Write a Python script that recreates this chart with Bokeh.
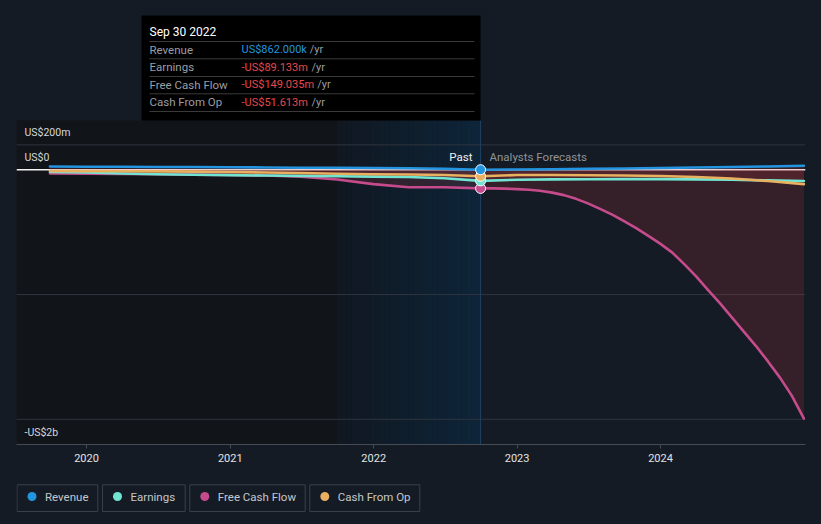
import numpy as np
import pandas as pd
from bokeh.plotting import figure
from bokeh.models import Range1d, FixedTicker, DatetimeTickFormatter
from bokeh.layouts import column
from bokeh.embed import file_html
from bokeh.resources import INLINE
from bokeh.core.properties import value

# ---------------- data (US$ millions) ----------------
PAST_DATES = ["2019-09-30", "2019-12-31", "2020-03-31", "2020-06-30", "2020-09-30",
              "2020-12-31", "2021-03-31", "2021-06-30", "2021-09-30", "2021-12-31",
              "2022-03-31", "2022-06-30", "2022-09-30"]
FC_DATES = ["2022-12-31", "2023-03-31", "2023-06-30", "2023-09-30", "2023-12-31",
            "2024-03-31", "2024-06-30", "2024-09-30", "2024-12-31"]
FCF_FC_DATES = ["2022-10-31", "2022-11-30", "2022-12-31", "2023-01-31", "2023-02-28",
                "2023-03-31", "2023-04-30", "2023-05-31", "2023-06-30", "2023-07-31",
                "2023-08-31", "2023-09-30", "2023-10-31", "2023-11-30", "2023-12-31",
                "2024-01-31", "2024-02-29", "2024-03-31", "2024-04-30", "2024-05-31",
                "2024-06-30", "2024-07-31", "2024-08-31", "2024-09-30", "2024-10-31",
                "2024-11-30", "2024-12-31"]

REVENUE_PAST = [26, 25, 24, 23, 22, 20, 19, 17, 16, 15, 13, 8, 0.862]
EARNINGS_PAST = [-18, -22, -30, -36, -40, -43, -46, -49, -52, -55, -58, -68, -89.133]
FCF_PAST = [-30, -31, -33, -36, -39, -42, -46, -55, -78, -115, -140, -140, -149.035]
CFO_PAST = [-10, -11, -12, -13, -15, -18, -22, -26, -32, -36, -38, -42, -51.613]

REVENUE_FC = [3, 5, 8, 11, 14, 18, 22, 27, 33]
EARNINGS_FC = [-80, -77, -76, -75, -75, -77, -80, -85, -90]
CFO_FC = [-42, -42, -44, -46, -50, -58, -70, -90, -115]
FCF_FC = [-149, -151, -155, -160, -168, -183, -203, -233, -269, -313, -359, -411,
          -467, -528, -592, -664, -752, -852, -960, -1069, -1181, -1297, -1413,
          -1534, -1666, -1810, -1995]

SERIES = ["Revenue", "Earnings", "Free Cash Flow", "Cash From Op"]
PAST_END = "2022-09-30"
PAST_START = "2021-09-30"
TOOLTIP_TITLE = "Sep 30 2022"
TICK_YEARS = [2020, 2021, 2022, 2023, 2024]
Y_LABELS = ["US$200m", "US$0", "-US$2b"]
GRID_VALUES = [200, -1000, -2000]

# ---------------- style ----------------
BG = "#151b24"
DARK = "#111419"
C_REV = "#2394df"
C_EARN = "#71e4d2"
C_FCF = "#c64b8c"
C_CFO = "#e9b060"
COLORS = [C_REV, C_EARN, C_FCF, C_CFO]
RED = "#e5484d"
FONT = value("Roboto")

# pixel <-> data helpers (layout only)
K = 0.12475      # px per US$m
Y0 = 169.3       # page y of zero
X0 = 86.0        # page x of 2020-01-01
PXDAY = 0.3929   # px per day
BASE = pd.Timestamp("2020-01-01")


def ms(ts):
    return pd.Timestamp(ts).value / 1e6


def yv(py):
    return (Y0 - py) / K


def xv(px):
    return ms(BASE + pd.Timedelta(days=(px - X0) / PXDAY))


xq = [ms(d) for d in PAST_DATES + FC_DATES]
xf = [ms(d) for d in PAST_DATES + FCF_FC_DATES]
REVENUE = REVENUE_PAST + REVENUE_FC
EARNINGS = EARNINGS_PAST + EARNINGS_FC
CFO = CFO_PAST + CFO_FC
FCF = FCF_PAST + FCF_FC
x_end = ms(PAST_END)
x_hl = ms(PAST_START)

FRAME_TOP, FRAME_BOTTOM = 12, 444
p = figure(frame_width=789, frame_height=FRAME_BOTTOM - FRAME_TOP,
           min_border_left=8, min_border_right=8, min_border_top=4, min_border_bottom=30,
           x_axis_type="datetime", y_axis_location=None,
           x_range=Range1d(xv(16), xv(805)), y_range=Range1d(yv(FRAME_BOTTOM), yv(FRAME_TOP)),
           output_backend="svg", toolbar_location=None)
p.background_fill_color = BG
p.border_fill_color = BG
p.outline_line_color = None
p.xgrid.visible = False
p.ygrid.visible = False

# backgrounds
top_bg = yv(120)
bot_bg = yv(FRAME_BOTTOM)
p.quad(left=[xv(16)], right=[x_hl], top=[top_bg], bottom=[bot_bg], fill_color=DARK, line_color=None)
n = 30
c0 = np.array([17, 24, 34])
c1 = np.array([14, 37, 57])
edges = np.linspace(x_hl, x_end, n + 1)
cols = ["#%02x%02x%02x" % tuple(int(v) for v in (c0 + (c1 - c0) * (i / (n - 1)))) for i in range(n)]
p.quad(left=edges[:-1], right=edges[1:] + (edges[1] - edges[0]) * 0.05, top=[top_bg] * n, bottom=[bot_bg] * n,
       fill_color=cols, line_color=None)

# gridlines
p.segment(x0=[xv(16)] * len(GRID_VALUES), x1=[xv(805)] * len(GRID_VALUES),
          y0=GRID_VALUES, y1=GRID_VALUES, line_color="#2f353e", line_width=1)
p.segment(x0=[xv(16)], x1=[xv(805)], y0=[0], y1=[0], line_color="#f2f2f2", line_width=1.5)

# fills
p.varea(x=xq, y1=REVENUE, y2=EARNINGS, fill_color="#e23c46", fill_alpha=0.16)
p.varea(x=xf, y1=[0] * len(xf), y2=FCF, fill_color="#e23c46", fill_alpha=0.16)

# past/forecast divider
p.segment(x0=[x_end], x1=[x_end], y0=[yv(120)], y1=[bot_bg], line_color="#1d4466", line_width=1)

# lines
for xs, ys, c in [(xf, FCF, C_FCF), (xq, EARNINGS, C_EARN), (xq, CFO, C_CFO), (xq, REVENUE, C_REV)]:
    p.line(xs, ys, line_color=c, line_width=2.6, line_cap="round", line_join="round")

i_end = PAST_DATES.index(PAST_END)
p.scatter(x=[x_end] * 4,
          y=[FCF[i_end], EARNINGS[i_end], CFO[i_end], REVENUE[i_end]],
          size=10, fill_color=[C_FCF, C_EARN, C_CFO, C_REV], line_color="white", line_width=1)

# y labels
p.text(x=[xv(24)] * 3, y=[yv(132), yv(156.7), yv(432)], text=Y_LABELS,
       text_font=FONT, text_font_size=value("10.5px"), text_color="#d6d9dc",
       text_align="left", text_baseline="middle")

# Past / Forecast labels
p.text(x=[xv(472)], y=[yv(156)], text=["Past"], text_font=FONT, text_font_size=value("11.5px"),
       text_color="#f0f0f0", text_align="right", text_baseline="middle")
p.text(x=[xv(489)], y=[yv(156)], text=["Analysts Forecasts"], text_font=FONT,
       text_font_size=value("11.5px"), text_color="#8e949b", text_align="left", text_baseline="middle")

# tooltip
p.quad(left=[xv(141)], right=[x_end], top=[yv(15)], bottom=[yv(120)], fill_color="#000000", line_color=None)
p.text(x=[xv(149)], y=[yv(31)], text=[TOOLTIP_TITLE], text_font=FONT, text_font_size=value("12px"),
       text_color="#ffffff", text_align="left", text_baseline="middle")
sep_y = [41, 58.3, 76, 93.3, 111]
p.segment(x0=[xv(149)] * 5, x1=[xv(474)] * 5, y0=[yv(v) for v in sep_y], y1=[yv(v) for v in sep_y],
          line_color="#3a3a3a", line_width=1)


def fmt(v):
    a = abs(v)
    s = f"US${a * 1000:.3f}k" if a < 1 else f"US${a:.3f}m"
    return ("-" if v < 0 else "") + s


row_y = [49.3, 66.7, 84.3, 101.7]
vals = [REVENUE[i_end], EARNINGS[i_end], FCF[i_end], CFO[i_end]]
yr_x = [309.3, 311, 316.7, 311]
p.text(x=[xv(149)] * 4, y=[yv(v) for v in row_y], text=SERIES, text_font=FONT,
       text_font_size=value("11.5px"), text_color="#9a9ea4", text_align="left", text_baseline="middle")
p.text(x=[xv(241)] * 4, y=[yv(v) for v in row_y], text=[fmt(v) for v in vals], text_font=FONT,
       text_font_size=value("11px"), text_color=[C_REV if v >= 0 else RED for v in vals],
       text_align="left", text_baseline="middle")
p.text(x=[xv(px) for px in yr_x], y=[yv(v) for v in row_y], text=["/yr"] * 4, text_font=FONT,
       text_font_size=value("11px"), text_color="#9a9ea4", text_align="left", text_baseline="middle")

# x axis
p.xaxis.ticker = FixedTicker(ticks=[ms(f"{y}-01-01") for y in TICK_YEARS])
p.xaxis.formatter = DatetimeTickFormatter(years="%Y", months="%Y", days="%Y", hours="%Y",
                                          minutes="%Y", seconds="%Y", milliseconds="%Y")
p.xaxis.axis_line_color = "#464b53"
p.xaxis.major_tick_line_color = "#464b53"
p.xaxis.major_tick_in = 0
p.xaxis.major_tick_out = 4
p.xaxis.minor_tick_line_color = None
p.xaxis.major_label_text_color = "#e2e4e6"
p.xaxis.major_label_text_font = "Roboto"
p.xaxis.major_label_text_font_size = "11px"
p.xaxis.major_label_standoff = 5

# legend figure (data coords = page pixels; the figure sits at page x=16)
LEG_TOP = 8 + 4 + (FRAME_BOTTOM - FRAME_TOP) + 30
LEG_H = 44
lg = figure(frame_width=805, frame_height=LEG_H,
            min_border=0, min_border_left=0, min_border_right=0, min_border_top=0, min_border_bottom=0,
            x_range=Range1d(16, 821), y_range=Range1d(LEG_TOP + LEG_H, LEG_TOP),
            x_axis_location=None, y_axis_location=None,
            output_backend="svg", toolbar_location=None)
lg.background_fill_color = BG
lg.border_fill_color = BG
lg.outline_line_color = None
lg.xgrid.visible = False
lg.ygrid.visible = False
box_l = [16.5, 102, 189.3, 309.3]
box_r = [97.3, 184.7, 304.7, 419.3]
lg.quad(left=box_l, right=box_r, top=[484.3] * 4, bottom=[511] * 4,
        fill_color=None, line_color="#3a4049", line_width=1)
lg.scatter(x=[b + 15 for b in box_l], y=[496] * 4, size=9, fill_color=COLORS, line_color=None)
lg.text(x=[b + 28 for b in box_l], y=[496] * 4, text=SERIES, text_font=FONT,
        text_font_size=value("11.5px"), text_color="#c4c8cc", text_align="left", text_baseline="middle")

layout = column(p, lg, spacing=0)
layout.styles = {"background-color": BG}
html = file_html(layout, INLINE)
html = html.replace("</head>",
                    "<style>html{background:%s;margin:0;padding:0;}"
                    "body{background:%s;margin:8px !important;padding:0;}</style></head>" % (BG, BG), 1)
open("out.html", "w").write(html)
